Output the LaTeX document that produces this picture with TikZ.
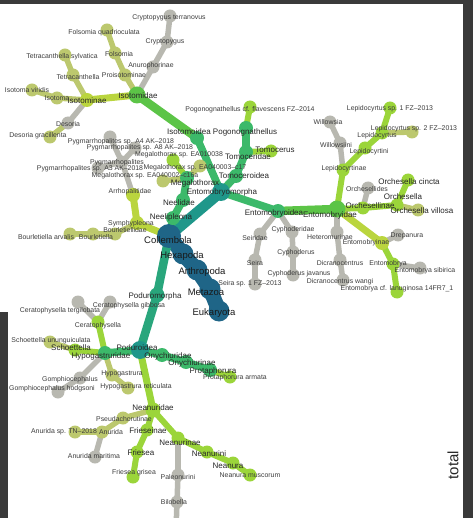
\documentclass[tikz,border=0pt]{standalone}
\usepackage{fontspec}
\setmainfont{Liberation Sans}
\pgfdeclarelayer{bg}
\pgfdeclarelayer{edges}
\pgfsetlayers{bg,edges,main}

\definecolor{cBlue}{HTML}{1F6587}
\definecolor{cTeal}{HTML}{1F978A}
\definecolor{cTealG}{HTML}{29A67C}
\definecolor{cGreen}{HTML}{3CB96A}
\definecolor{cGreenB}{HTML}{5CC447}
\definecolor{cLime}{HTML}{9BD53A}
\definecolor{cYel}{HTML}{BAD53E}
\definecolor{cKhaki}{HTML}{BCC86E}
\definecolor{cGray}{HTML}{B8B8B0}
\definecolor{frameGray}{HTML}{3A3A3A}
\definecolor{txt}{HTML}{3C3C3C}

\tikzset{
  dot/.style={circle, inner sep=0pt, minimum size=13pt, fill=#1},
  dB/.style={dot=cBlue, minimum size=21pt},
  dT/.style={dot=cTeal, minimum size=18pt},
  dTG/.style={dot=cTealG, minimum size=15pt},
  dG/.style={dot=cGreen, minimum size=14pt},
  dGB/.style={dot=cGreenB, minimum size=17pt},
  dL/.style={dot=cLime},
  dY/.style={dot=cYel, minimum size=14pt},
  dK/.style={dot=cKhaki},
  dN/.style={dot=cGray},
  eB/.style={draw=cBlue, line width=15pt, line cap=round},
  eT/.style={draw=cTeal, line width=10.5pt, line cap=round},
  eTG/.style={draw=cTealG, line width=8.5pt, line cap=round},
  eG/.style={draw=cGreen, line width=7.5pt, line cap=round},
  eGB/.style={draw=cGreenB, line width=8.5pt, line cap=round},
  eL/.style={draw=cLime, line width=6pt, line cap=round},
  eY/.style={draw=cYel, line width=7pt, line cap=round},
  eK/.style={draw=cKhaki, line width=5.5pt, line cap=round},
  eN/.style={draw=cGray, line width=5.5pt, line cap=round},
  lab/.style={font=\fontsize{6.9}{7}\selectfont, text=txt, inner sep=0pt},
  labm/.style={font=\fontsize{8}{9}\selectfont, text=black!85, inner sep=0pt},
  labb/.style={font=\fontsize{9.5}{10}\selectfont, text=black!90, inner sep=0pt},
}

\begin{document}
\begin{tikzpicture}[x=1pt, y=-1pt]
\useasboundingbox (0,0) rectangle (473,518);

% dark frame around the canvas
\begin{pgfonlayer}{bg}
  \fill[frameGray] (0,0) rectangle (473,4);
  \fill[frameGray] (463,0) rectangle (473,518);
  \fill[frameGray] (0,312) rectangle (8,518);
\end{pgfonlayer}

% ---------- nodes ----------
% root chain
\node[dB] (euk) at (219,311) {};
\node[dB] (met) at (210,289) {};
\node[dB] (art) at (197,270) {};
\node[dB] (hex) at (183,254) {};
\node[dB, minimum size=24pt] (col) at (169,236) {};

% Entomobryomorpha
\node[dT] (ento) at (221,192) {};
\node[dG] (isoid) at (197,138) {};
\node[dGB] (isotd) at (137,95) {};
\node[dN] (anuro) at (153,67) {};
\node[dN] (crypt) at (167,42) {};
\node[dN] (cryptt) at (170,16) {};
\node[dK] (proiso) at (125,75) {};
\node[dK] (folsom) at (115,53) {};
\node[dK] (folsq) at (107,30) {};
\node[dY] (isotmn) at (87,100) {};
\node[dK] (isoto) at (57,98) {};
\node[dK] (isotv) at (32,90) {};
\node[dK] (tetra) at (73,75) {};
\node[dK] (tetras) at (65,55) {};
\node[dN] (desor) at (68,123) {};
\node[dK] (desorg) at (50,137) {};

\node[dG] (tomoid) at (236,176) {};
\node[dG] (tomod) at (246,152) {};
\node[dG] (pogo) at (246,128) {};
\node[dL] (pogocf) at (250,107) {};
\node[dL] (tomocer) at (271,151) {};

\node[dG] (entoid) at (278,211) {};
\node[dGB] (entod) at (337,209) {};
\node[dN] (seirid) at (260,234) {};
\node[dN] (seira) at (255,260) {};
\node[dN] (seiras) at (255,284) {};
\node[dN] (cyphd) at (292,232) {};
\node[dN] (cyph) at (293,252) {};
\node[dN] (cyphj) at (293,275) {};
\node[dL] (lepinae) at (343,170) {};
\node[dN] (willi) at (340,143) {};
\node[dN] (willo) at (330,122) {};
\node[dL] (lepini) at (365,148) {};
\node[dL] (lepcy) at (382,133) {};
\node[dL] (lep1) at (390,108) {};
\node[dK] (lep2) at (412,132) {};
\node[dN] (orchd) at (368,188) {};
\node[dL] (orchn) at (363,208) {};
\node[dL] (orch) at (397,205) {};
\node[dL] (orchc) at (408,180) {};
\node[dK] (orchv) at (418,210) {};
\node[dN] (heter) at (337,232) {};
\node[dN] (dicr) at (340,260) {};
\node[dN] (dicrw) at (343,280) {};
\node[dY] (entnae) at (382,243) {};
\node[dN] (drep) at (398,235) {};
\node[dL] (entb) at (393,264) {};
\node[dN] (entbs) at (420,268) {};
\node[dL] (entbl) at (397,292) {};

% Neelipleona
\node[dG] (neelip) at (173,218) {};
\node[dG] (neelid) at (183,200) {};
\node[dG] (megth) at (187,178) {};
\node[dL] (meg1) at (173,160) {};
\node[dK] (meg2) at (200,166) {};
\node[dK] (meg3) at (163,181) {};

% Symphypleona
\node[dY] (symph) at (137,223) {};
\node[dY] (arrho) at (133,195) {};
\node[dN] (pygm) at (122,162) {};
\node[dN] (pygA4) at (110,137) {};
\node[dN] (pygA8) at (135,148) {};
\node[dN] (pygA3) at (98,168) {};
\node[dK] (bourd) at (115,234) {};
\node[dK] (bourl) at (93,234) {};
\node[dK] (bourla) at (70,234) {};

% Poduromorpha
\node[dTG] (podm) at (157,295) {};
\node[dT] (podo) at (140,350) {};
\node[dG] (hypod) at (105,353) {};
\node[dL] (schoe) at (75,350) {};
\node[dK] (schoeu) at (50,342) {};
\node[dL] (cerat) at (98,322) {};
\node[dN] (ceratt) at (78,302) {};
\node[dN] (ceratg) at (110,302) {};
\node[dN] (gomph) at (80,378) {};
\node[dN] (gomphh) at (58,392) {};
\node[dK] (hypog) at (112,375) {};
\node[dK] (hypogr) at (128,388) {};
\node[dG] (onychd) at (162,355) {};
\node[dG] (onychn) at (186,362) {};
\node[dG] (prota) at (210,370) {};
\node[dL] (protaa) at (230,377) {};
\node[dL, minimum size=15pt] (neand) at (153,410) {};
\node[dK] (pseud) at (123,418) {};
\node[dK] (anur) at (102,432) {};
\node[dK] (anursp) at (75,432) {};
\node[dN] (anurm) at (95,457) {};
\node[dL] (fries) at (147,430) {};
\node[dL] (friesea) at (137,452) {};
\node[dL] (friesg) at (133,477) {};
\node[dL] (neannae) at (178,438) {};
\node[dL] (neanini) at (207,452) {};
\node[dL] (neanura) at (233,463) {};
\node[dL] (neanm) at (250,475) {};
\node[dN] (paleo) at (178,475) {};
\node[dN] (bilo) at (177,502) {};
\coordinate (botm) at (176,530);

% ---------- edges ----------
\begin{pgfonlayer}{edges}
  \begin{scope}
  \clip (0,4) rectangle (463,518);
  \draw[eB] (col.center) -- (hex.center) -- (art.center) -- (met.center) -- (euk.center);
  \draw[eT] (col.center) -- (ento.center);
  \draw[eTG] (col.center) -- (podm.center);
  \draw[eTG] (podm.center) -- (podo.center);

  \draw[eG] (ento.center) -- (isoid.center);
  \draw[eGB] (isoid.center) -- (isotd.center);
  \draw[eN] (isotd.center) -- (anuro.center);
  \draw[eN] (anuro.center) -- (crypt.center);
  \draw[eN] (crypt.center) -- (cryptt.center);
  \draw[eK] (isotd.center) -- (proiso.center);
  \draw[eK] (proiso.center) -- (folsom.center);
  \draw[eK] (folsom.center) -- (folsq.center);
  \draw[eY] (isotd.center) -- (isotmn.center);
  \draw[eK] (isotmn.center) -- (isoto.center);
  \draw[eK] (isoto.center) -- (isotv.center);
  \draw[eK] (isotmn.center) -- (tetra.center);
  \draw[eK] (tetra.center) -- (tetras.center);
  \draw[eN] (isotmn.center) -- (desor.center);
  \draw[eK] (desor.center) -- (desorg.center);

  \draw[eG] (ento.center) -- (tomoid.center);
  \draw[eG] (tomoid.center) -- (tomod.center);
  \draw[eG] (tomod.center) -- (pogo.center);
  \draw[eL] (pogo.center) -- (pogocf.center);
  \draw[eL] (tomod.center) -- (tomocer.center);

  \draw[eG] (ento.center) -- (entoid.center);
  \draw[eGB] (entoid.center) -- (entod.center);
  \draw[eN] (entoid.center) -- (seirid.center);
  \draw[eN] (seirid.center) -- (seira.center);
  \draw[eN] (seira.center) -- (seiras.center);
  \draw[eN] (entoid.center) -- (cyphd.center);
  \draw[eN] (cyphd.center) -- (cyph.center);
  \draw[eN] (cyph.center) -- (cyphj.center);
  \draw[eL] (entod.center) -- (lepinae.center);
  \draw[eN] (lepinae.center) -- (willi.center);
  \draw[eN] (willi.center) -- (willo.center);
  \draw[eL] (lepinae.center) -- (lepini.center);
  \draw[eL] (lepini.center) -- (lepcy.center);
  \draw[eL] (lepcy.center) -- (lep1.center);
  \draw[eK] (lepcy.center) -- (lep2.center);
  \draw[eL] (entod.center) -- (orchn.center);
  \draw[eN] (orchn.center) -- (orchd.center);
  \draw[eL] (orchn.center) -- (orch.center);
  \draw[eL] (orch.center) -- (orchc.center);
  \draw[eK] (orch.center) -- (orchv.center);
  \draw[eN] (entod.center) -- (heter.center);
  \draw[eN] (heter.center) -- (dicr.center);
  \draw[eN] (dicr.center) -- (dicrw.center);
  \draw[eY] (entod.center) -- (entnae.center);
  \draw[eN] (entnae.center) -- (drep.center);
  \draw[eL] (entnae.center) -- (entb.center);
  \draw[eN] (entb.center) -- (entbs.center);
  \draw[eL] (entb.center) -- (entbl.center);

  \draw[eG] (col.center) -- (neelip.center);
  \draw[eG] (neelip.center) -- (neelid.center);
  \draw[eG] (neelid.center) -- (megth.center);
  \draw[eL] (megth.center) -- (meg1.center);
  \draw[eK] (megth.center) -- (meg2.center);
  \draw[eK] (megth.center) -- (meg3.center);

  \draw[eY] (col.center) -- (symph.center);
  \draw[eY] (symph.center) -- (arrho.center);
  \draw[eN] (arrho.center) -- (pygm.center);
  \draw[eN] (pygm.center) -- (pygA4.center);
  \draw[eN] (pygm.center) -- (pygA8.center);
  \draw[eN] (pygm.center) -- (pygA3.center);
  \draw[eK] (symph.center) -- (bourd.center);
  \draw[eK] (bourd.center) -- (bourl.center);
  \draw[eK] (bourl.center) -- (bourla.center);

  \draw[eG] (podo.center) -- (hypod.center);
  \draw[eL] (hypod.center) -- (schoe.center);
  \draw[eK] (schoe.center) -- (schoeu.center);
  \draw[eL] (hypod.center) -- (cerat.center);
  \draw[eN] (cerat.center) -- (ceratt.center);
  \draw[eN] (cerat.center) -- (ceratg.center);
  \draw[eN] (hypod.center) -- (gomph.center);
  \draw[eN] (gomph.center) -- (gomphh.center);
  \draw[eK] (hypod.center) -- (hypog.center);
  \draw[eK] (hypog.center) -- (hypogr.center);
  \draw[eG] (podo.center) -- (onychd.center);
  \draw[eG] (onychd.center) -- (onychn.center);
  \draw[eG] (onychn.center) -- (prota.center);
  \draw[eL] (prota.center) -- (protaa.center);
  \draw[eL, line width=7pt] (podo.center) -- (neand.center);
  \draw[eK] (neand.center) -- (pseud.center);
  \draw[eK] (pseud.center) -- (anur.center);
  \draw[eK] (anur.center) -- (anursp.center);
  \draw[eN] (anur.center) -- (anurm.center);
  \draw[eL] (neand.center) -- (fries.center);
  \draw[eL] (fries.center) -- (friesea.center);
  \draw[eL] (friesea.center) -- (friesg.center);
  \draw[eL] (neand.center) -- (neannae.center);
  \draw[eL] (neannae.center) -- (neanini.center);
  \draw[eL] (neanini.center) -- (neanura.center);
  \draw[eL] (neanura.center) -- (neanm.center);
  \draw[eN] (neannae.center) -- (paleo.center);
  \draw[eN] (paleo.center) -- (bilo.center);
  \draw[eN] (bilo.center) -- (botm);
  \end{scope}
\end{pgfonlayer}

% ---------- labels ----------
\node[labb] (t-euk) at (214,313) {Eukaryota};
\node[labb] (t-met) at (206,292) {Metazoa};
\node[labb] (t-art) at (202,272) {Arthropoda};
\node[labb] (t-hex) at (182,256) {Hexapoda};
\node[labb] (t-col) at (168,240) {Collembola};

\node[labm] (t-ento) at (222,192) {Entomobryomorpha};
\node[labm] (t-isoid) at (189,132) {Isotomoidea};
\node[labm] (t-isotd) at (138,96) {Isotomidae};
\node[lab] (t-anuro) at (151,66) {Anurophorinae};
\node[lab] (t-crypt) at (165,42) {Cryptopygus};
\node[lab] (t-cryptt) at (169,18) {Cryptopygus terranovus};
\node[lab] (t-proiso) at (124,75) {Proisotominae};
\node[lab] (t-folsom) at (119,54) {Folsomia};
\node[lab] (t-folsq) at (104,33) {Folsomia quadrioculata};
\node[labm] (t-isotmn) at (87,101) {Isotominae};
\node[lab] (t-isoto) at (57,98) {Isotoma};
\node[lab] (t-isotv) at (27,90) {Isotoma viridis};
\node[lab] (t-tetra) at (78,77) {Tetracanthella};
\node[lab] (t-tetras) at (62,57) {Tetracanthella sylvatica};
\node[lab] (t-desor) at (68,124) {Desoria};
\node[lab] (t-desorg) at (38,136) {Desoria gracillenta};

\node[labm] (t-tomoid) at (244,176) {Tomoceroidea};
\node[labm] (t-tomod) at (248,157) {Tomoceridae};
\node[labm] (t-pogo) at (245,132) {Pogonognathellus};
\node[lab] (t-pogocf) at (250,110) {Pogonognathellus cf. flavescens FZ--2014};
\node[labm] (t-tomocer) at (275,150) {Tomocerus};

\node[labm] (t-entoid) at (274,213) {Entomobryoidea};
\node[labm] (t-entod) at (330,215) {Entomobryidae};
\node[lab] (t-seirid) at (255,238) {Seiridae};
\node[lab] (t-seira) at (255,263) {Seira};
\node[lab] (t-seiras) at (250,284) {Seira sp. 1 FZ--2013};
\node[lab] (t-cyphd) at (293,230) {Cyphoderidae};
\node[lab] (t-cyph) at (296,253) {Cyphoderus};
\node[lab] (t-cyphj) at (299,274) {Cyphoderus javanus};
\node[lab] (t-lepinae) at (344,169) {Lepidocyrtinae};
\node[lab] (t-willi) at (336,145) {Willowsiini};
\node[lab] (t-willo) at (328,122) {Willowsia};
\node[lab] (t-lepini) at (369,152) {Lepidocyrtini};
\node[lab] (t-lepcy) at (377,136) {Lepidocyrtus};
\node[lab] (t-lep1) at (390,109) {Lepidocyrtus sp. 1 FZ--2013};
\node[lab] (t-lep2) at (414,129) {Lepidocyrtus sp. 2 FZ--2013};
\node[lab] (t-orchd) at (367,189) {Orchesellides};
\node[labm] (t-orchn) at (370,206) {Orchesellinae};
\node[labm] (t-orch) at (403,197) {Orchesella};
\node[labm] (t-orchc) at (409,182) {Orchesella cincta};
\node[labm] (t-orchv) at (422,211) {Orchesella villosa};
\node[lab] (t-heter) at (330,237) {Heteromurinae};
\node[lab] (t-dicr) at (340,263) {Dicranocentrus};
\node[lab] (t-dicrw) at (340,282) {Dicranocentrus wangi};
\node[lab] (t-entnae) at (366,243) {Entomobryinae};
\node[lab] (t-drep) at (407,236) {Drepanura};
\node[lab] (t-entb) at (388,264) {Entomobrya};
\node[lab] (t-entbs) at (425,271) {Entomobrya sibirica};
\node[lab] (t-entbl) at (397,289) {Entomobrya cf. lanuginosa 14FR7\_1};

\node[labm] (t-neelip) at (171,217) {Neelipleona};
\node[labm] (t-neelid) at (179,203) {Neelidae};
\node[labm] (t-megth) at (195,183) {Megalothorax};
\node[lab] (t-meg1) at (179,155) {Megalothorax sp. EA010038};
\node[lab] (t-meg2) at (195,168) {Megalothorax sp. EA040003--c17};
\node[lab] (t-meg3) at (145,176) {Megalothorax sp. EA040002--c16a};

\node[lab] (t-symph) at (131,224) {Symphypleona};
\node[lab] (t-arrho) at (130,192) {Arrhopalitidae};
\node[lab] (t-pygm) at (117,163) {Pygmarrhopalites};
\node[lab] (t-pygA4) at (121,142) {Pygmarrhopalites sp. A4 AK--2018};
\node[lab] (t-pygA8) at (140,148) {Pygmarrhopalites sp. A8 AK--2018};
\node[lab] (t-pygA3) at (90,169) {Pygmarrhopalites sp. A3 AK--2018};
\node[lab] (t-bourd) at (125,230) {Bourletiellidae};
\node[lab] (t-bourl) at (96,237) {Bourletiella};
\node[lab] (t-bourla) at (46,237) {Bourletiella arvalis};

\node[labm] (t-podm) at (155,296) {Poduromorpha};
\node[labm] (t-podo) at (137,348) {Poduroidea};
\node[labm] (t-hypod) at (101,356) {Hypogastruridae};
\node[labm] (t-schoe) at (71,348) {Schoettella};
\node[lab] (t-schoeu) at (51,341) {Schoettella ununguiculata};
\node[lab] (t-cerat) at (98,326) {Ceratophysella};
\node[lab] (t-ceratt) at (60,311) {Ceratophysella tergilobata};
\node[lab] (t-ceratg) at (129,306) {Ceratophysella gibbosa};
\node[lab] (t-gomph) at (70,380) {Gomphiocephalus};
\node[lab] (t-gomphh) at (52,389) {Gomphiocephalus hodgsoni};
\node[lab] (t-hypog) at (122,374) {Hypogastrura};
\node[lab] (t-hypogr) at (136,387) {Hypogastrura reticulata};
\node[labm] (t-onychd) at (168,356) {Onychiuridae};
\node[labm] (t-onychn) at (192,363) {Onychiurinae};
\node[labm] (t-prota) at (213,371) {Protaphorura};
\node[lab] (t-protaa) at (235,378) {Protaphorura armata};
\node[labm] (t-neand) at (153,408) {Neanuridae};
\node[lab] (t-pseud) at (124,419) {Pseudachorutinae};
\node[lab] (t-anur) at (111,432) {Anurida};
\node[lab] (t-anursp) at (64,432) {Anurida sp. TN--2018};
\node[lab] (t-anurm) at (94,456) {Anurida maritima};
\node[labm] (t-fries) at (148,431) {Frieseinae};
\node[labm] (t-friesea) at (141,453) {Friesea};
\node[lab] (t-friesg) at (134,473) {Friesea grisea};
\node[labm] (t-neannae) at (180,443) {Neanurinae};
\node[labm] (t-neanini) at (209,454) {Neanurini};
\node[labm] (t-neanura) at (228,466) {Neanura};
\node[lab] (t-neanm) at (250,475) {Neanura muscorum};
\node[lab] (t-paleo) at (178,477) {Paleonurini};
\node[lab] (t-bilo) at (174,502) {Bilobella};

\node[rotate=90, font=\fontsize{15}{15}\selectfont, text=black!85, inner sep=0pt] (total) at (453,465) {total};
\end{tikzpicture}
\end{document}
